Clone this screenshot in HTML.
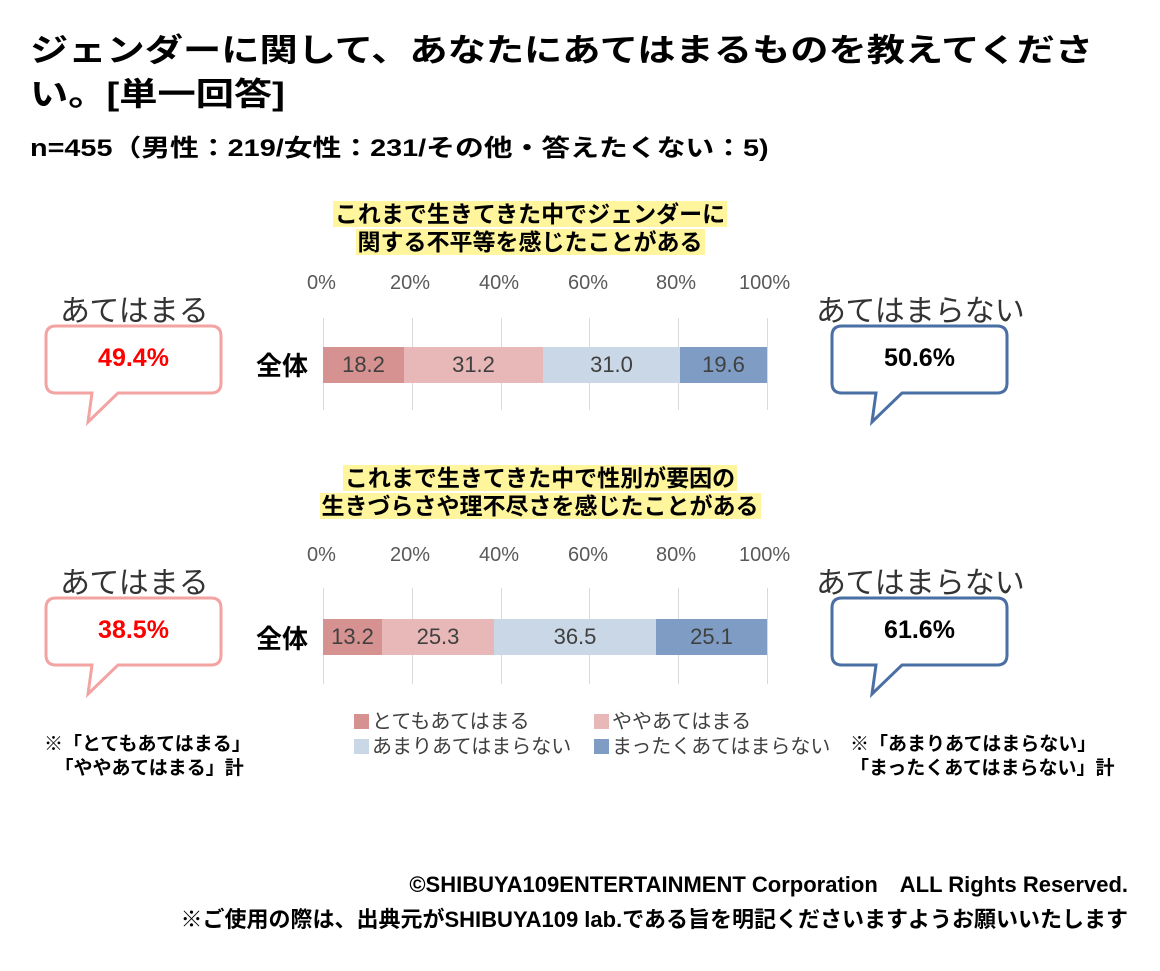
<!DOCTYPE html>
<html><head><meta charset="utf-8"><style>
body{margin:0;width:1160px;height:971px;background:#fff;position:relative;overflow:hidden;font-family:"Liberation Sans","Noto Sans CJK JP",sans-serif;color:#000}
.a{position:absolute;white-space:nowrap}
.t{font-weight:bold;font-size:32px;line-height:44px;transform:scaleX(1.195);transform-origin:left top}
.hl{background:#fff59d;font-weight:bold;font-size:23px;line-height:27px;padding:0 2px}
.tick{font-size:20px;color:#595959}
.grid{position:absolute;width:1px;background:#d9d9d9}
.seg{position:absolute;height:36px;font-size:22px;color:#404040;text-align:center;line-height:36px}
.lbl{font-size:30px;color:#333}
.leg{font-size:20px;color:#404040}
.sq{display:inline-block;width:15px;height:15px;margin-right:3px;vertical-align:-1px}
.note{font-size:19px;font-weight:bold;line-height:24px}
</style></head><body>
<div class="a t" style="left:30px;top:28px">ジェンダーに関して、あなたにあてはまるものを教えてくださ</div>
<div class="a t" style="left:30px;top:72px">い。[単一回答]</div>
<div class="a" style="left:30px;top:128px;font-size:24px;font-weight:bold;transform:scaleX(1.2);transform-origin:left top">n=455（男性：219/女性：231/その他・答えたくない：5)</div>

<div class="a" style="left:0;width:1060px;top:201px;text-align:center"><span class="hl">これまで生きてきた中でジェンダーに</span></div>
<div class="a" style="left:0;width:1060px;top:229px;text-align:center"><span class="hl">関する不平等を感じたことがある</span></div>

<div class="a" style="left:0;width:1080px;top:465px;text-align:center"><span class="hl">これまで生きてきた中で性別が要因の</span></div>
<div class="a" style="left:0;width:1080px;top:493px;text-align:center"><span class="hl">生きづらさや理不尽さを感じたことがある</span></div>

<svg class="a" style="left:0;top:0" width="1160" height="971">
<g fill="#fff" stroke-width="3">
<path d="M56,326 H211 Q221,326 221,336 V383 Q221,393 211,393 H118 L88,422 L92,393 H56 Q46,393 46,383 V336 Q46,326 56,326Z" stroke="#f4a3a3"/>
<path d="M842,326 H997 Q1007,326 1007,336 V383 Q1007,393 997,393 H902 L872,422 L876,393 H842 Q832,393 832,383 V336 Q832,326 842,326Z" stroke="#4a6fa5"/>
<path d="M56,598 H211 Q221,598 221,608 V655 Q221,665 211,665 H118 L88,694 L92,665 H56 Q46,665 46,655 V608 Q46,598 56,598Z" stroke="#f4a3a3"/>
<path d="M842,598 H997 Q1007,598 1007,608 V655 Q1007,665 997,665 H902 L872,694 L876,665 H842 Q832,665 832,655 V608 Q832,598 842,598Z" stroke="#4a6fa5"/>
</g>
</svg>
<div class="a" style="left:46px;width:175px;top:344px;text-align:center;font-size:25px;font-weight:bold;color:#ff0000">49.4%</div>
<div class="a" style="left:832px;width:175px;top:344px;text-align:center;font-size:25px;font-weight:bold">50.6%</div>
<div class="a" style="left:46px;width:175px;top:616px;text-align:center;font-size:25px;font-weight:bold;color:#ff0000">38.5%</div>
<div class="a" style="left:832px;width:175px;top:616px;text-align:center;font-size:25px;font-weight:bold">61.6%</div>
<div class="a lbl" style="left:60px;top:286px">あてはまる</div>
<div class="a lbl" style="left:816px;top:286px">あてはまらない</div>
<div class="a lbl" style="left:60px;top:558px">あてはまる</div>
<div class="a lbl" style="left:816px;top:558px">あてはまらない</div>

<div class="a tick" style="left:307px;top:272px">0%</div><div class="a tick" style="left:390px;top:272px">20%</div><div class="a tick" style="left:479px;top:272px">40%</div><div class="a tick" style="left:568px;top:272px">60%</div><div class="a tick" style="left:656px;top:272px">80%</div><div class="a tick" style="left:739px;top:272px">100%</div>
<div class="a tick" style="left:307px;top:544px">0%</div><div class="a tick" style="left:390px;top:544px">20%</div><div class="a tick" style="left:479px;top:544px">40%</div><div class="a tick" style="left:568px;top:544px">60%</div><div class="a tick" style="left:656px;top:544px">80%</div><div class="a tick" style="left:739px;top:544px">100%</div>
<div class="grid" style="left:323px;top:318px;height:92px"></div><div class="grid" style="left:412px;top:318px;height:92px"></div><div class="grid" style="left:501px;top:318px;height:92px"></div><div class="grid" style="left:589px;top:318px;height:92px"></div><div class="grid" style="left:678px;top:318px;height:92px"></div><div class="grid" style="left:767px;top:318px;height:92px"></div>
<div class="grid" style="left:323px;top:588px;height:96px"></div><div class="grid" style="left:412px;top:588px;height:96px"></div><div class="grid" style="left:501px;top:588px;height:96px"></div><div class="grid" style="left:589px;top:588px;height:96px"></div><div class="grid" style="left:678px;top:588px;height:96px"></div><div class="grid" style="left:767px;top:588px;height:96px"></div>

<div class="a" style="left:256px;top:346px;font-size:26px;font-weight:bold">全体</div>
<div class="seg" style="left:323px;top:347px;width:81px;background:#d69191">18.2</div>
<div class="seg" style="left:404px;top:347px;width:139px;background:#e8b8b8">31.2</div>
<div class="seg" style="left:543px;top:347px;width:137px;background:#cad7e7">31.0</div>
<div class="seg" style="left:680px;top:347px;width:87px;background:#7f9dc4">19.6</div>

<div class="a" style="left:256px;top:619px;font-size:26px;font-weight:bold">全体</div>
<div class="seg" style="left:323px;top:619px;width:59px;background:#d69191">13.2</div>
<div class="seg" style="left:382px;top:619px;width:112px;background:#e8b8b8">25.3</div>
<div class="seg" style="left:494px;top:619px;width:162px;background:#cad7e7">36.5</div>
<div class="seg" style="left:656px;top:619px;width:111px;background:#7f9dc4">25.1</div>

<div class="a leg" style="left:354px;top:705px"><span class="sq" style="background:#d69191"></span>とてもあてはまる</div>
<div class="a leg" style="left:594px;top:705px"><span class="sq" style="background:#e8b8b8"></span>ややあてはまる</div>
<div class="a leg" style="left:354px;top:730px"><span class="sq" style="background:#cad7e7"></span>あまりあてはまらない</div>
<div class="a leg" style="left:594px;top:730px"><span class="sq" style="background:#7f9dc4"></span>まったくあてはまらない</div>

<div class="a note" style="left:44px;top:733px">※「とてもあてはまる」<br>&nbsp;&nbsp;「ややあてはまる」計</div>
<div class="a note" style="left:850px;top:733px">※「あまりあてはまらない」<br>「まったくあてはまらない」計</div>

<div class="a" style="right:32px;top:867px;font-size:22px;font-weight:bold">©SHIBUYA109ENTERTAINMENT Corporation　ALL Rights Reserved.</div>
<div class="a" style="right:32px;top:902px;font-size:22px;font-weight:bold">※ご使用の際は、出典元がSHIBUYA109 lab.である旨を明記くださいますようお願いいたします</div>
</body></html>
